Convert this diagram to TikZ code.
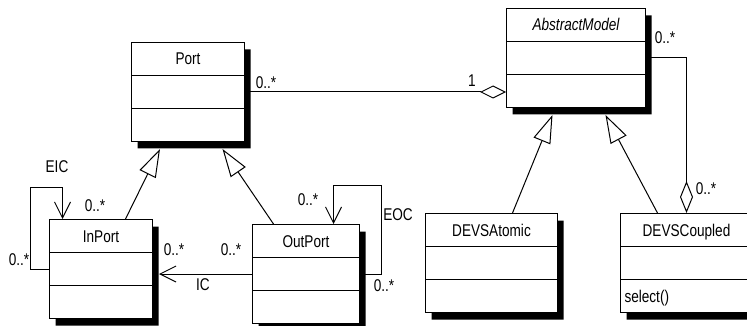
\documentclass[tikz,border=0pt]{standalone}
\usepackage{fontspec}
\setmainfont{Liberation Sans}
\newfontfamily\umlfont[FakeStretch=0.8]{Liberation Sans}
\usetikzlibrary{shapes.multipart,shadows,arrows.meta}

\newcommand{\partstrut}{\rule[-10pt]{0pt}{32pt}}

\begin{document}
\begin{tikzpicture}[
	x=1pt, y=-1pt, line width=1pt,
	font=\umlfont\fontsize{17}{19}\selectfont,
	class/.style={
		rectangle split, rectangle split parts=3,
		rectangle split part align={center,left,left},
		draw, fill=white, anchor=north west,
		inner ysep=0pt, inner xsep=4pt, minimum width=#1,
		drop shadow={shadow xshift=6pt, shadow yshift=-7pt, fill=black, opacity=1}
	},
	mult/.style={inner sep=0pt},
	gen/.style={-{Triangle[open,length=28pt,width=18pt]}},
	nav/.style={-{Straight Barb[length=16pt,width=16pt]}},
	aggr/.style={-{Diamond[open,length=#1,width=13pt]}},
	aggr/.default=26pt
]
\useasboundingbox (0,0) rectangle (747,326);

% Classes (top left corners, y grows downwards)
\node[class=113pt] (port)     at (131, 42)  {\partstrut Port \nodepart{two}\partstrut \nodepart{three}\partstrut};
\node[class=139pt] (abstract) at (506,  8)  {\partstrut\itshape AbstractModel \nodepart{two}\partstrut \nodepart{three}\partstrut};
\node[class=103pt] (inport)   at (49,  219) {\partstrut InPort \nodepart{two}\partstrut \nodepart{three}\partstrut};
\node[class=107pt] (outport)  at (252, 224) {\partstrut OutPort \nodepart{two}\partstrut \nodepart{three}\partstrut};
\node[class=132pt] (atomic)   at (425, 213) {\partstrut DEVSAtomic \nodepart{two}\partstrut \nodepart{three}\partstrut};
\node[class=132pt] (coupled)  at (620, 213) {\partstrut DEVSCoupled \nodepart{two}\partstrut \nodepart{three}\partstrut select()};

% Port -- AbstractModel, diamond at the model
\draw[aggr] (port.east) -- (port.east -| abstract.west);
\node[mult] (lblport) at (266, 83) {0..*};
\node[mult] (lblone)  at (472, 81) {1};

% AbstractModel -- DEVSCoupled, diamond at the coupled model
\draw[aggr=32pt] (abstract.east) -| (coupled.north);
\node[mult] (lblabs)  at (665, 38)  {0..*};
\node[mult] (lblcoup) at (706, 189) {0..*};

% Generalizations, tips on the shadow edge
\draw[gen] ([xshift=24.5pt]inport.north)  -- ([xshift=-28pt,yshift=-7pt]port.south);
\draw[gen] ([xshift=-32.5pt]outport.north) -- ([xshift=34.5pt,yshift=-7pt]port.south);
\draw[gen] ([xshift=21pt]atomic.north)    -- ([xshift=-23.5pt,yshift=-7pt]abstract.south);
\draw[gen] ([xshift=-29pt]coupled.north)  -- ([xshift=29.5pt,yshift=-7pt]abstract.south);

% EIC loop on InPort
\draw[nav] (inport.west) -- ++(-19,0) -- ++(0,-82) -| ([xshift=-38.5pt]inport.north);
\node[mult] (lbleic)  at (57, 167) {EIC};
\node[mult] (lbleicl) at (19, 260) {0..*};
\node[mult] (lbleict) at (95, 206) {0..*};

% IC: OutPort -> InPort
\draw[nav] (outport.west) -- ([xshift=6pt]outport.west -| inport.east);
\node[mult] (lblicin)  at (174, 250) {0..*};
\node[mult] (lblicout) at (231, 250) {0..*};
\node[mult] (lblic)    at (203, 285) {IC};

% EOC loop on OutPort
\draw[nav] (outport.east) -- ++(21,0) -- ++(0,-89) -| ([xshift=27.5pt]outport.north);
\node[mult] (lbleoct) at (308, 200) {0..*};
\node[mult] (lbleoc)  at (398, 215) {EOC};
\node[mult] (lbleocb) at (384, 286) {0..*};

\end{tikzpicture}
\end{document}
